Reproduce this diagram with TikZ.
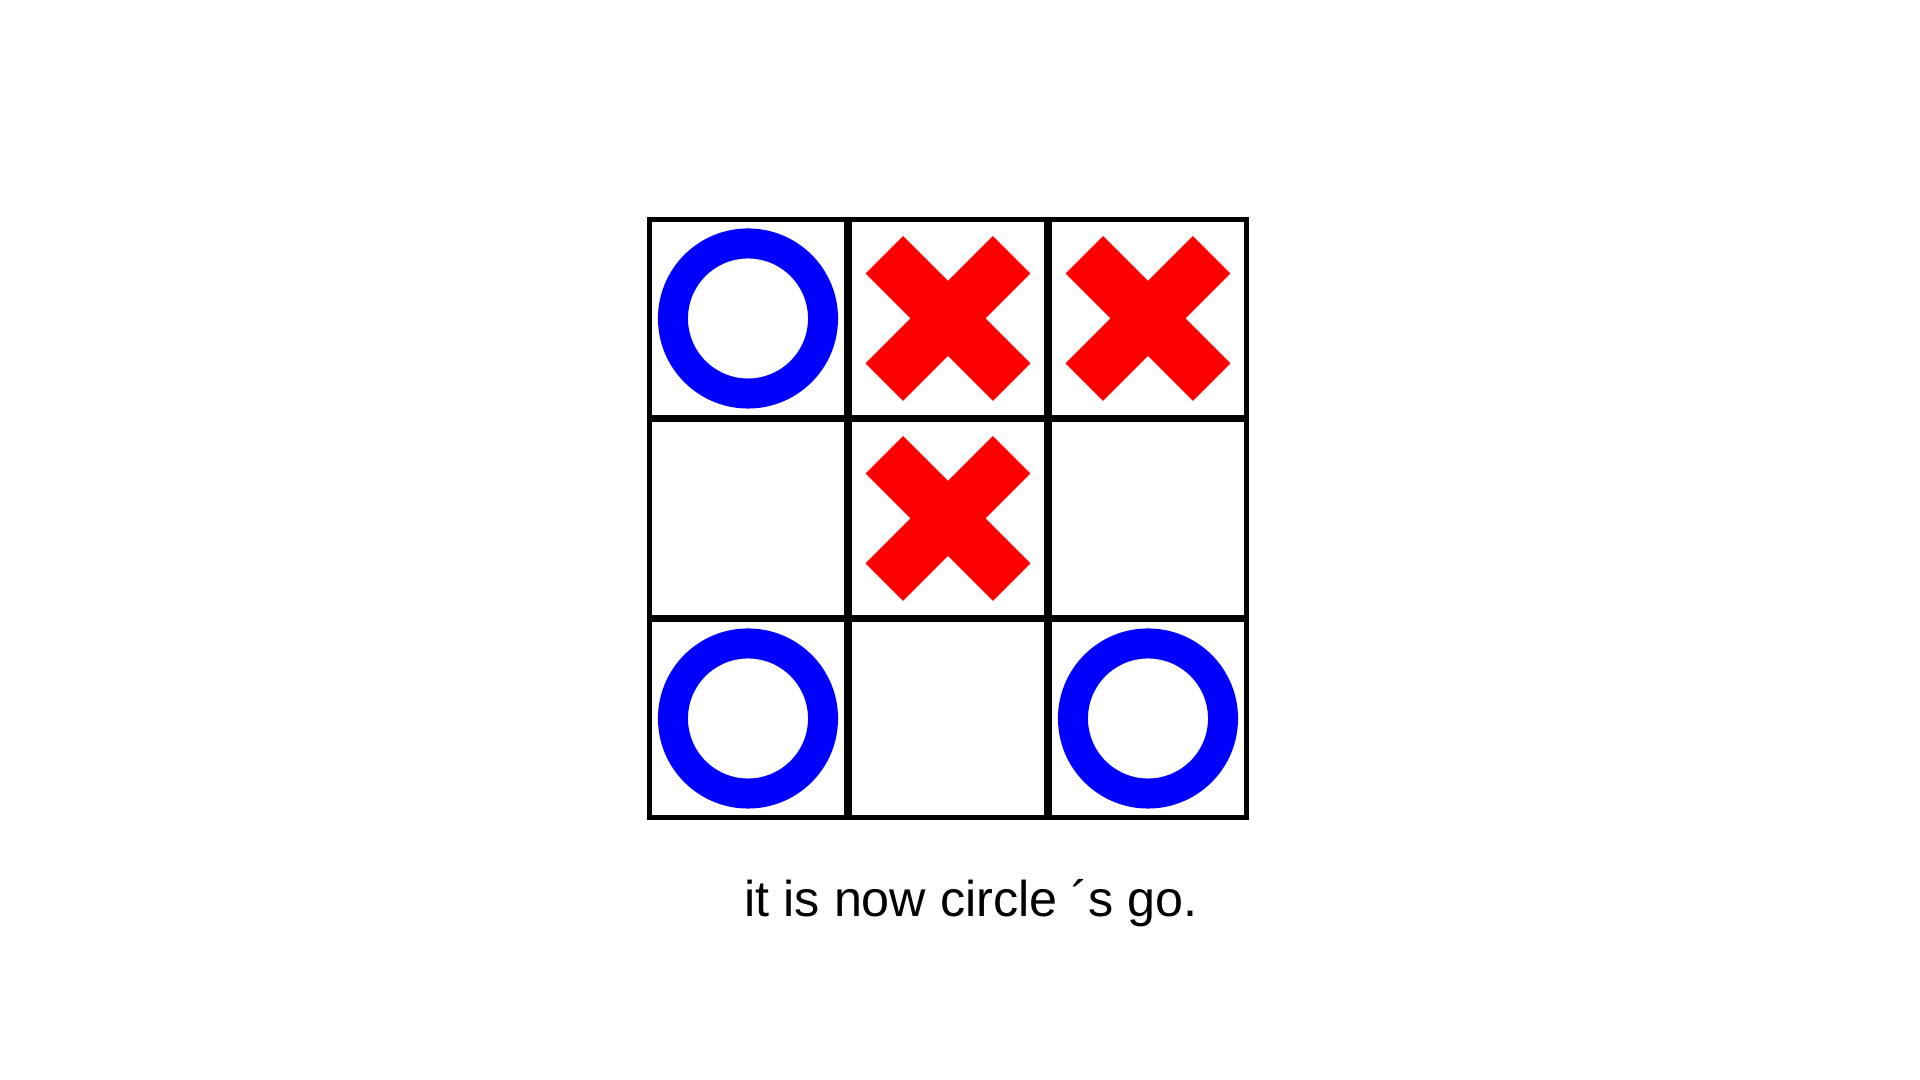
\documentclass[tikz,border=0pt]{standalone}
\usepackage{fontspec}
\setmainfont{Liberation Sans}
\usepackage{tikz}

\tikzset{
  cellbox/.style={draw=black, line width=0.05cm, minimum size=1.97cm, inner sep=0pt},
  omark/.style={circle, draw=blue, line width=0.3cm, minimum size=1.5cm, inner sep=0pt},
  xbar/.style={rectangle, fill=red, minimum width=1.8cm, minimum height=0.53cm, inner sep=0pt}
}

\begin{document}
\begin{tikzpicture}[x=0.01cm, y=-0.01cm]
    \useasboundingbox (0,0) rectangle (1920,1080);

    % the board
    \foreach \row in {0,1,2} {
        \foreach \col in {0,1,2} {
            \node [cellbox] (c\row\col) at (748+200*\col, 318.5+200*\row) {};
        }
    }

    % circles
    \foreach \cell in {00,20,22} {
        \node [omark] (o\cell) at (c\cell) {};
    }

    % crosses
    \foreach \cell in {01,02,11} {
        \node [xbar, rotate=45] (xa\cell) at (c\cell) {};
        \node [xbar, rotate=-45] (xb\cell) at (c\cell) {};
    }

    \node [anchor=base, font=\fontsize{14.3}{17}\selectfont] (caption) at (971, 917) {it is now circle ´s go.};

\end{tikzpicture}
\end{document}
